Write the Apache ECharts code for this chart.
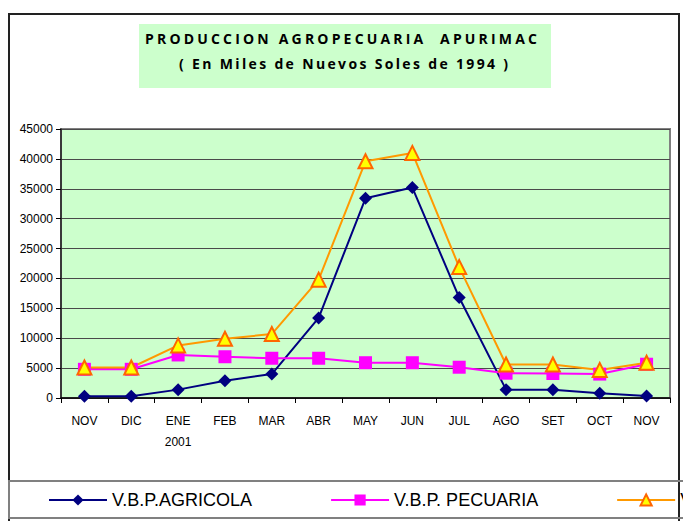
<!DOCTYPE html>
<html>
<head>
<meta charset="utf-8">
<script src="https://cdn.jsdelivr.net/npm/echarts@6/dist/echarts.min.js"></script>
<style>
html,body{margin:0;padding:0;background:#fff;}
#chart{width:683px;height:521px;}
</style>
</head>
<body>
<div id="chart"></div>
<script>
const categories = ['NOV','DIC','ENE','FEB','MAR','ABR','MAY','JUN','JUL','AGO','SET','OCT','NOV'];
const yearLabelIndex = 2;
const yearLabel = '2001';
const seriesNames = ['V.B.P.AGRICOLA','V.B.P. PECUARIA','V.B.P.AGROPECUARIO'];
const agricola  = [300, 300, 1400, 2900, 4000, 13400, 33400, 35200, 16800, 1400, 1400, 800, 350];
const pecuaria  = [4800, 4800, 7200, 6900, 6650, 6650, 5900, 5900, 5150, 4150, 4100, 4000, 5650];
const agropecuario = [5100, 5100, 8800, 9900, 10700, 19800, 39600, 41000, 21900, 5600, 5600, 4700, 5900];
const yTicks = {min: 0, max: 45000, interval: 5000};
const titleLine1 = 'PRODUCCION AGROPECUARIA  APURIMAC';
const titleLine2 = '( En Miles de Nuevos Soles de 1994 )';

const chart = echarts.init(document.getElementById('chart'), null, {renderer: 'svg'});
const font = 'Arial, "Liberation Sans", sans-serif';
const option = {
  animation: false,
  backgroundColor: '#ffffff',
  grid: {
    left: 61, right: 13, top: 129, bottom: 123,
    show: true, backgroundColor: '#CCFFCC', borderColor: '#808080', borderWidth: 2
  },
  xAxis: {
    type: 'category',
    data: categories,
    boundaryGap: true,
    axisLine: {lineStyle: {color: '#000', width: 1.5}},
    axisTick: {show: true, inside: false, length: 5, lineStyle: {color: '#000'}, alignWithLabel: false},
    axisLabel: {
      color: '#000', fontFamily: font, fontSize: 12, margin: 12, lineHeight: 21,
      interval: 0,
      formatter: (v, i) => i === yearLabelIndex ? v + '\n' + yearLabel : v
    },
    splitLine: {show: false}
  },
  yAxis: {
    type: 'value',
    min: yTicks.min, max: yTicks.max, interval: yTicks.interval,
    axisLine: {show: true, lineStyle: {color: '#222', width: 1.5}},
    axisTick: {show: true, inside: false, length: 5, lineStyle: {color: '#000'}},
    axisLabel: {color: '#000', fontFamily: font, fontSize: 12, margin: 8, formatter: v => String(v)},
    splitLine: {show: true, lineStyle: {color: '#4a4a4a', width: 1}}
  },
  legend: {
    left: 48, top: 491, width: 1500, padding: 0,
    itemWidth: 58, itemHeight: 14, itemGap: 78,
    textStyle: {color: '#000', fontFamily: font, fontSize: 18},
    data: seriesNames
  },
  graphic: [
    {type: 'rect', z: 100, silent: true, shape: {x: 9, y: 14, width: 670, height: 540},
     style: {fill: 'none', stroke: '#222', lineWidth: 2}},
    {type: 'rect', z: 100, silent: true, shape: {x: 9, y: 481, width: 700, height: 37},
     style: {fill: 'none', stroke: '#808080', lineWidth: 2}},
    {type: 'rect', z: 100, silent: true, shape: {x: 139, y: 24, width: 412, height: 64},
     style: {fill: '#CCFFCC'}},
    {type: 'text', id: 't1', z: 101, silent: true, x: 145, y: 38,
     style: {text: titleLine1, fill: '#000', font: 'bold 14px "Open Sans", sans-serif', textAlign: 'left', textVerticalAlign: 'middle'}},
    {type: 'text', id: 't2', z: 101, silent: true, x: 179, y: 63,
     style: {text: titleLine2, fill: '#000', font: 'bold 14px "Open Sans", sans-serif', textAlign: 'left', textVerticalAlign: 'middle'}}
  ],
  series: [
    {
      name: seriesNames[0], type: 'line', data: agricola,
      symbol: 'diamond', symbolSize: 13,
      lineStyle: {color: '#000080', width: 2},
      itemStyle: {color: '#000080'}
    },
    {
      name: seriesNames[1], type: 'line', data: pecuaria,
      symbol: 'rect', symbolSize: 13,
      lineStyle: {color: '#FF00FF', width: 2},
      itemStyle: {color: '#FF00FF'}
    },
    {
      name: seriesNames[2], type: 'line', data: agropecuario,
      symbol: 'triangle', symbolSize: 14,
      lineStyle: {color: '#FF9900', width: 2},
      itemStyle: {color: '#FFFF00', borderColor: '#FF6600', borderWidth: 2}
    }
  ]
};
chart.setOption(option);

function spaceTitle() {
  const targets = [[titleLine1, 392], [titleLine2, 329]];
  document.querySelectorAll('#chart text').forEach(t => {
    targets.forEach(([txt, w]) => {
      if (t.textContent === txt) {
        t.style.letterSpacing = '0px';
        const natural = t.getComputedTextLength();
        const sp = (w - natural) / (txt.length - 1);
        t.style.letterSpacing = sp.toFixed(2) + 'px';
      }
    });
  });
}
spaceTitle();
chart.on('finished', spaceTitle);
</script>
</body>
</html>
